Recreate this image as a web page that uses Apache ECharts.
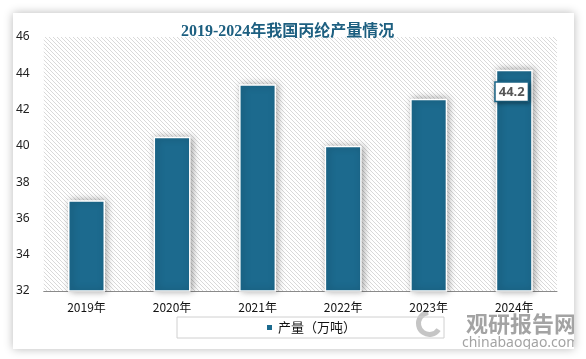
<!DOCTYPE html>
<html>
<head>
<meta charset="utf-8">
<script src="https://cdn.jsdelivr.net/npm/echarts@6/dist/echarts.min.js"></script>
<style>
  html, body { margin: 0; padding: 0; background: #ffffff; width: 586px; height: 359px; overflow: hidden; }
  #card { position: absolute; left: 13px; top: 13px; width: 561px; height: 336px; background: #fff;
          box-shadow: 0 0 9px rgba(0,0,0,0.28); }
  #chart { width: 561px; height: 336px; }
</style>
</head>
<body>
<div id="card"><div id="chart"></div></div>
<script>
const title = '2019-2024年我国丙纶产量情况';
const categories = ['2019年', '2020年', '2021年', '2022年', '2023年', '2024年'];
const seriesName = '产量（万吨）';
const values = [37.0, 40.5, 43.4, 40.0, 42.6, 44.2];
const yMin = 32, yMax = 46, yStep = 2;

const barColor = '#1c6a8e';

// hatched pattern for plot background
const pat = document.createElement('canvas');
pat.width = 4; pat.height = 4;
const pc = pat.getContext('2d');
pc.fillStyle = '#ffffff'; pc.fillRect(0, 0, 4, 4);
pc.fillStyle = '#d9d9d9';
for (let i = 0; i < 4; i++) pc.fillRect(i, i, 1, 1);

const chart = echarts.init(document.getElementById('chart'), null, { renderer: 'canvas' });

const data = values.map((v, i) => {
  if (i === values.length - 1) {
    return {
      value: v,
      label: {
        show: true,
        position: [0, 13],
        formatter: '{c}',
        backgroundColor: '#fff',
        borderColor: barColor,
        borderWidth: 1.5,
        padding: [3, 3, 2, 3],
        color: '#555',
        fontWeight: 'bold',
        fontSize: 13,
        fontFamily: 'Noto Sans, sans-serif',
        shadowColor: 'rgba(0,0,0,0.35)',
        shadowBlur: 4,
        shadowOffsetX: 1,
        shadowOffsetY: 1
      }
    };
  }
  return v;
});

chart.setOption({
  animation: false,
  title: {
    text: title,
    left: 163,
    top: 6,
    textStyle: {
      color: '#1d5f80',
      fontSize: 16,
      fontWeight: 'bold',
      fontFamily: '"Liberation Serif", "Noto Sans CJK SC", serif'
    }
  },
  grid: {
    left: 28, right: 17, top: 24, bottom: 58,
    show: true,
    borderWidth: 0,
    backgroundColor: { image: pat, repeat: 'repeat' }
  },
  legend: {
    data: [seriesName],
    left: 164,
    top: 304,
    padding: [4, 88, 4, 88],
    borderColor: '#d0d0d0',
    borderWidth: 1,
    icon: 'rect',
    itemWidth: 7,
    itemHeight: 7,
    itemGap: 4,
    textStyle: { color: '#111', fontSize: 13, fontFamily: '"Noto Sans CJK SC", sans-serif' }
  },
  xAxis: {
    type: 'category',
    data: categories,
    axisLine: { lineStyle: { color: '#8a8a8a', width: 1 } },
    axisTick: { show: false },
    axisLabel: { color: '#111', fontSize: 12, margin: 10, fontFamily: '"Noto Sans CJK SC", sans-serif' }
  },
  yAxis: {
    type: 'value',
    min: yMin, max: yMax, interval: yStep,
    axisLine: { show: false },
    axisTick: { show: false },
    splitLine: { show: false },
    axisLabel: { color: '#222', fontSize: 12, margin: 14, fontFamily: '"Noto Sans", sans-serif' }
  },
  series: [{
    name: seriesName,
    type: 'bar',
    barWidth: 37,
    data: data,
    itemStyle: {
      color: barColor,
      borderColor: '#ffffff',
      borderWidth: 1.5,
      shadowColor: 'rgba(0,0,0,0.35)',
      shadowBlur: 7,
      shadowOffsetX: 2,
      shadowOffsetY: 0
    }
  }],
  graphic: [
    {
      type: 'arc', left: 403, top: 297, silent: true,
      shape: { cx: 0, cy: 0, r: 11, startAngle: 0.6, endAngle: 4.6 },
      style: { stroke: 'rgba(150,150,150,0.55)', lineWidth: 5, fill: null }
    },
    {
      type: 'text', left: 453, top: 300, silent: true,
      style: { text: '观研报告网', fill: 'rgba(140,140,140,0.8)', font: 'bold 22px "Noto Sans CJK SC", sans-serif' }
    },
    {
      type: 'text', left: 449, top: 323, silent: true,
      style: { text: 'chinabaogao.com', fill: 'rgba(140,140,140,0.8)', font: '14px "Noto Sans", sans-serif' }
    }
  ]
});
</script>
</body>
</html>
